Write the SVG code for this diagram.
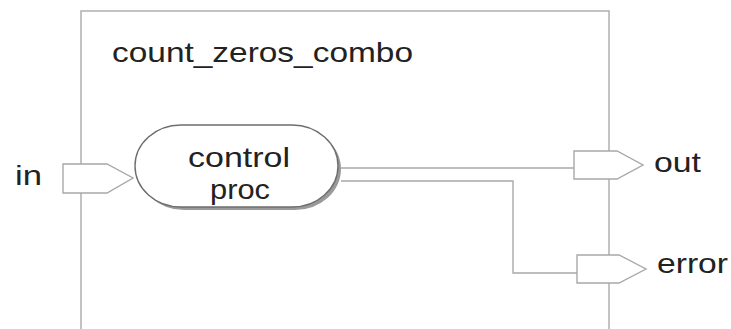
<svg xmlns="http://www.w3.org/2000/svg" width="731" height="329" viewBox="0 0 731 329">
  <defs>
    <style>
      .frame { fill: none; stroke: #b4b4b4; stroke-width: 1.6; }
      .wire { fill: none; stroke: #a8a8a8; stroke-width: 1.4; }
      .port { fill: #ffffff; stroke: #a8a8a8; stroke-width: 1.4; stroke-linejoin: miter; }
      .proc-shadow { fill: #9a9a9a; stroke: none; }
      .proc { fill: #ffffff; stroke: #6e6e6e; stroke-width: 1.4; }
      .label { font-family: "Liberation Sans", Arial, Helvetica, sans-serif; font-size: 28px; fill: #222222; }
    </style>
  </defs>

  <!-- module boundary -->
  <g id="module">
    <rect class="frame" x="81" y="11" width="528" height="320"/>
    <text class="label" x="112" y="62" textLength="301" lengthAdjust="spacingAndGlyphs">count_zeros_combo</text>
  </g>

  <!-- signal wires -->
  <g id="connectors">
    <path class="wire" d="M341,168 H575"/>
    <path class="wire" d="M341,181 H513 V273 H578"/>
  </g>

  <!-- input port -->
  <g id="port-in">
    <polygon class="port" points="63,164 107,164 133,178 107,193 63,193"/>
    <text class="label" x="15" y="185" textLength="27" lengthAdjust="spacingAndGlyphs">in</text>
  </g>

  <!-- process bubble -->
  <g id="control-proc">
    <rect class="proc-shadow" x="138" y="128" width="203" height="82" rx="46" ry="41"/>
    <rect class="proc" x="135" y="125" width="203" height="82" rx="46" ry="41"/>
    <text class="label" x="188" y="167" textLength="102" lengthAdjust="spacingAndGlyphs">control</text>
    <text class="label" x="210" y="199" textLength="60" lengthAdjust="spacingAndGlyphs">proc</text>
  </g>

  <!-- output ports -->
  <g id="port-out">
    <polygon class="port" points="574,151 617,151 643,165 617,179 574,179"/>
    <text class="label" x="654" y="172" textLength="47" lengthAdjust="spacingAndGlyphs">out</text>
  </g>

  <g id="port-error">
    <polygon class="port" points="577,255 619,255 646,269 619,283 577,283"/>
    <text class="label" x="657" y="273" textLength="71" lengthAdjust="spacingAndGlyphs">error</text>
  </g>
</svg>
